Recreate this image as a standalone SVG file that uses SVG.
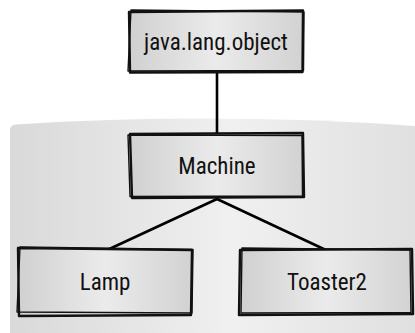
<svg xmlns="http://www.w3.org/2000/svg" width="415" height="333" viewBox="0 0 415 333">
<style>
.lbl{font-family:"Liberation Sans Narrow","Roboto Condensed","Liberation Sans",sans-serif;font-size:23px;fill:#111;text-anchor:middle}
.box{fill:url(#boxg)}
.sk{fill:none;stroke:#111;stroke-width:2.4;stroke-linejoin:round}
.sk2{fill:none;stroke:#111;stroke-width:1.4;stroke-linejoin:round}
.con{stroke:#000;stroke-width:2.6;fill:none;stroke-linecap:round}
</style>
<defs>
<linearGradient id="boxg" x1="0" y1="0" x2="1" y2="0">
<stop offset="0" stop-color="#d0d0d0"/>
<stop offset="0.5" stop-color="#ebebeb"/>
<stop offset="1" stop-color="#d2d2d2"/>
</linearGradient>
<linearGradient id="panelg" x1="0" y1="0" x2="1" y2="0">
<stop offset="0" stop-color="#d9d9d9"/>
<stop offset="0.55" stop-color="#f0f0f0"/>
<stop offset="1" stop-color="#e0e0e0"/>
</linearGradient>
</defs>
<path id="panel" d="M10 333 L10 130 Q10 125 16 124.5 Q215 112 415 126 L415 333 Z" fill="url(#panelg)"/>
<g id="connectors">
<line class="con" x1="217" y1="72" x2="217" y2="133"/>
<line class="con" x1="217" y1="199" x2="105" y2="251"/>
<line class="con" x1="217" y1="199" x2="328" y2="251"/>
</g>
<g id="node-object">
<rect class="box" x="129" y="11" width="174" height="61"/>
<path class="sk" d="M129 12 L303 10.5 L302.5 72 L130 72.5 Z"/>
<path class="sk2" d="M131 10 L304 12 L303.5 70.5 L128 71 Z"/>
<text class="lbl" x="216" y="50">java.lang.object</text>
</g>
<g id="node-machine">
<rect class="box" x="130" y="134" width="174" height="64"/>
<path class="sk" d="M130 134 L303 133 L304 197 L132 198 Z"/>
<path class="sk2" d="M128 135 L302 135.5 L302.5 196 L130 196.5 Z"/>
<text class="lbl" x="217" y="174">Machine</text>
</g>
<g id="node-lamp">
<rect class="box" x="18" y="248" width="174" height="67"/>
<path class="sk" d="M18 248 L192 250 L191 315 L19 316 Z"/>
<path class="sk2" d="M20 247 L193 249.5 L192 313 L17 312 Z"/>
<text class="lbl" x="105" y="290">Lamp</text>
</g>
<g id="node-toaster2">
<rect class="box" x="240" y="249" width="173" height="66"/>
<path class="sk" d="M240 250 L412 249 L413 314 L239 315 Z"/>
<path class="sk2" d="M242 248 L410 250 L411 312.5 L241 313 Z"/>
<text class="lbl" x="327" y="290">Toaster2</text>
</g>
</svg>
